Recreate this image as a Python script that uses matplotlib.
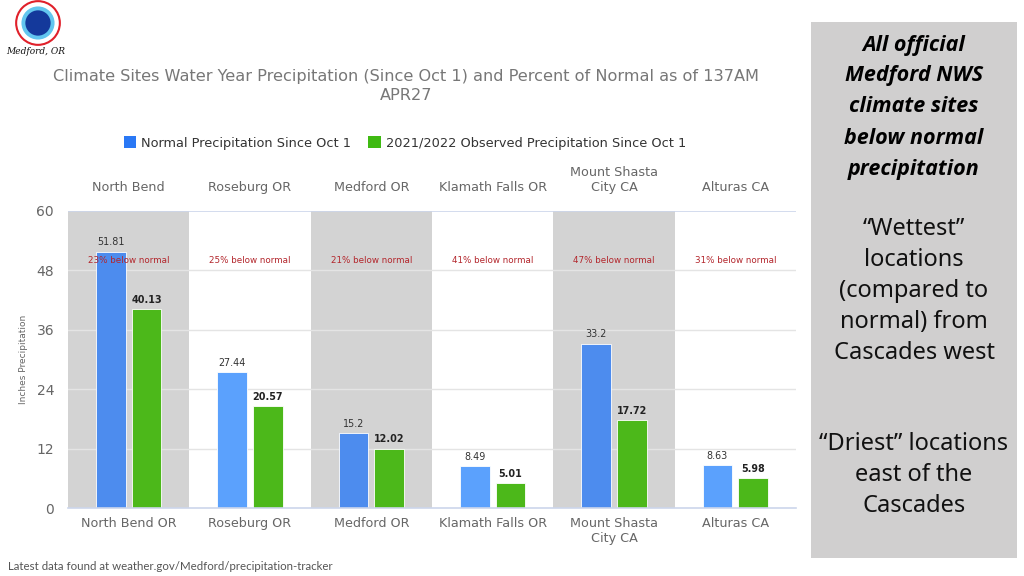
import numpy as np
import matplotlib
matplotlib.use("Agg")
import matplotlib.pyplot as plt
from matplotlib.patches import Patch, Rectangle, Circle

# ---- data ----
top_labels = ["North Bend", "Roseburg OR", "Medford OR", "Klamath Falls OR", "Mount Shasta\nCity CA", "Alturas CA"]
bottom_labels = ["North Bend OR", "Roseburg OR", "Medford OR", "Klamath Falls OR", "Mount Shasta\nCity CA", "Alturas CA"]
normal = [51.81, 27.44, 15.2, 8.49, 33.2, 8.63]
observed = [40.13, 20.57, 12.02, 5.01, 17.72, 5.98]
pct_below = [23, 25, 21, 41, 47, 31]
yticks = [0, 12, 24, 36, 48, 60]
series_names = ["Normal Precipitation Since Oct 1", "2021/2022 Observed Precipitation Since Oct 1"]
title = "Climate Sites Water Year Precipitation (Since Oct 1) and Percent of Normal as of 137AM\nAPR27"
side_bold = ["All official", "Medford NWS", "climate sites", "below normal", "precipitation"]
side_mid = ["\u201cWettest\u201d", "locations", "(compared to", "normal) from", "Cascades west"]
side_low = ["\u201cDriest\u201d locations", "east of the", "Cascades"]
footer = "Latest data found at weather.gov/Medford/precipitation-tracker"

plt.rcParams['font.family'] = ['DejaVu Sans']
W, H = 1024, 576
fig = plt.figure(figsize=(W / 100, H / 100), dpi=100)
fig.patch.set_facecolor('white')

def fx(px):
    return px / W

def fy(py):
    return 1 - py / H

ax = fig.add_axes([fx(68), fy(508), fx(796) - fx(68), fy(211) - fy(508)])
x = np.arange(len(normal))
ax.set_xlim(-0.5, len(normal) - 0.5)
ax.set_ylim(0, 60)

# alternating bands
for i in x:
    if i % 2 == 0:
        ax.axvspan(i - 0.5, i + 0.5, color='#d3d3d3', zorder=0, lw=0)

# grid lines
for t in yticks[1:-1]:
    ax.axhline(t, color='#e4e4e4', lw=1, zorder=1)
ax.axhline(60, color='#ccd6eb', lw=1.2, zorder=1)

blue_on_gray = '#4d8cee'
blue_on_white = '#5ba1fd'
blue_cols = [blue_on_gray if i % 2 == 0 else blue_on_white for i in x]
green = '#4cb81a'

bw = 0.245
off = 0.148
b1 = ax.bar(x - off, normal, bw, color=blue_cols, edgecolor='#ffffff', linewidth=0.6, zorder=2)
b2 = ax.bar(x + off, observed, bw, color=green, edgecolor='#ffffff', linewidth=0.6, zorder=2)

for rect, v in zip(b1, normal):
    ax.annotate(f"{v:g}", (rect.get_x() + rect.get_width() / 2, v), xytext=(0, 3),
                textcoords='offset points', ha='center', va='bottom', fontsize=6.9, color='#333333', zorder=4)
for rect, v in zip(b2, observed):
    ax.annotate(f"{v:g}", (rect.get_x() + rect.get_width() / 2, v), xytext=(0, 3),
                textcoords='offset points', ha='center', va='bottom', fontsize=6.9, color='#222222',
                fontweight='bold', zorder=4)

for i, p in zip(x, pct_below):
    ax.text(i, 49.9, f"{p}% below normal", ha='center', va='center', fontsize=6.3, color='#b3262c', zorder=5)

# axes styling
for s in ['top', 'left', 'right']:
    ax.spines[s].set_visible(False)
ax.spines['bottom'].set_color('#ccd6eb')
ax.spines['bottom'].set_linewidth(1.2)
ax.spines['bottom'].set_zorder(3)
ax.set_yticks(yticks)
ax.set_yticklabels([str(t) for t in yticks])
ax.tick_params(axis='y', length=0, pad=10, labelsize=10, labelcolor='#666666')
ax.set_xticks(x)
ax.set_xticklabels(bottom_labels)
ax.tick_params(axis='x', length=0, pad=6.5, labelsize=9.2, labelcolor='#666666')
ax.set_ylabel("Inches Precipitation", fontsize=6.5, color='#666666', labelpad=6)

sec = ax.secondary_xaxis('top')
sec.set_xticks(x)
sec.set_xticklabels(top_labels)
sec.tick_params(axis='x', length=0, pad=12.5, labelsize=9.2, labelcolor='#666666')
sec.spines['top'].set_visible(False)

# title
fig.text(fx(406), fy(86), title, ha='center', va='center', fontsize=11.6, color='#777777',
         linespacing=1.4, multialignment='center')

# legend
handles = [Patch(facecolor='#2a78f5', edgecolor='none'), Patch(facecolor='#3fba12', edgecolor='none')]
fig.legend(handles, series_names, loc='center', bbox_to_anchor=(fx(405), fy(143)), ncol=2,
           frameon=False, fontsize=9.3, handlelength=0.95, handleheight=0.95, handletextpad=0.4,
           columnspacing=1.3, labelcolor='#333333')

# footer
fig.text(fx(8), fy(566), footer, ha='left', va='center', fontsize=8.3, color='#555555', family=['Lato', 'DejaVu Sans'])

# side panel
fig.add_artist(Rectangle((fx(811), fy(558)), fx(1017) - fx(811), fy(22) - fy(558),
                         transform=fig.transFigure, facecolor='#d0cfcf', edgecolor='none'))
cx = fx(914)
for k, t in enumerate(side_bold):
    fig.text(cx, fy(45 + 31 * k), t, ha='center', va='center', fontsize=15.5, fontweight='bold',
             fontstyle='italic', color='#000000', family=['Open Sans', 'DejaVu Sans'])
for k, t in enumerate(side_mid):
    fig.text(cx, fy(229 + 31 * k), t, ha='center', va='center', fontsize=17, color='#111111',
             family=['Noto Sans', 'DejaVu Sans'])
for k, t in enumerate(side_low):
    fig.text(cx, fy(444 + 31 * k), t, ha='center', va='center', fontsize=17, color='#111111',
             family=['Noto Sans', 'DejaVu Sans'])

# logo
lax = fig.add_axes([fx(12), fy(46), fx(52), fy(0) - fy(46)])
lax.set_xlim(-1, 1)
lax.set_ylim(-1, 1)
lax.set_aspect('equal')
lax.axis('off')
lax.add_patch(Circle((0, 0.0), 0.95, facecolor='white', edgecolor='#e0202a', lw=1.5))
lax.add_patch(Circle((0, 0.0), 0.72, facecolor='#62c6ef', edgecolor='none'))
lax.add_patch(Circle((0, 0.0), 0.55, facecolor='#14399b', edgecolor='none'))
fig.text(fx(36), fy(51), "Medford, OR", ha='center', va='center', fontsize=6.5, fontstyle='italic',
         family=['DejaVu Serif'], color='#111111')

fig.savefig("out.png", dpi=100)
